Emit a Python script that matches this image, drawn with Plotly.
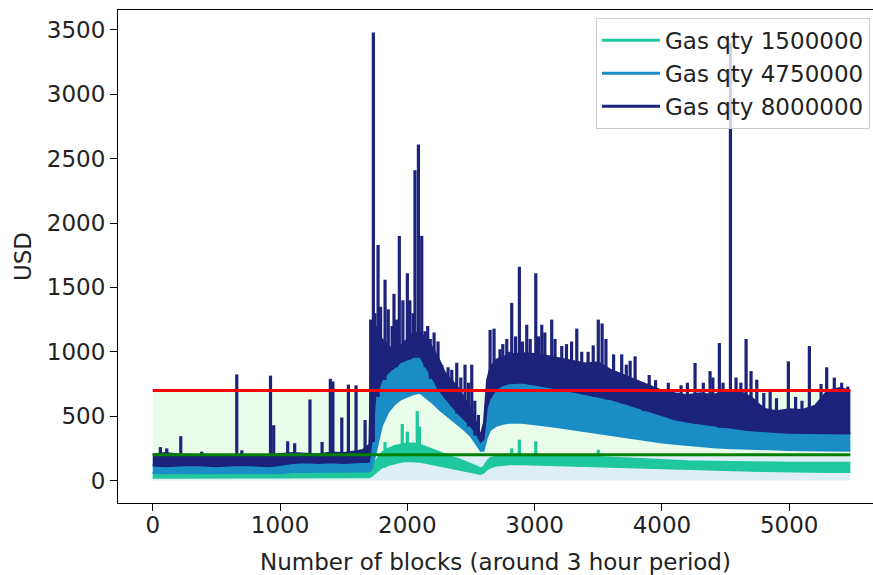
import numpy as np
import plotly.graph_objects as go

# ---------------- data ----------------
blocks = [0, 100, 200, 300, 400, 500, 600, 700, 800, 900, 1000, 1100, 1200, 1300, 1400, 1500, 1600,
          1650, 1700, 1720,
          1750, 1800, 1850, 1900, 1950, 2000, 2050, 2100, 2150, 2200, 2250, 2300, 2350, 2400, 2450, 2500, 2550,
          2575, 2600, 2625, 2650,
          2700, 2750, 2800,
          2900, 3000, 3100, 3200, 3300, 3400, 3500, 3600, 3700, 3800, 3900, 4000, 4100, 4200, 4300, 4400,
          4500, 4600, 4700, 4800, 4900, 5000, 5100, 5200, 5300, 5400,
          5480]

# Gas qty 1500000 (lower / upper edge of the dense band)
teal_low = [20, 20, 20, 20, 20, 20, 20, 20, 20, 20, 20, 25, 25, 25, 25, 25, 25,
            25, 25, 35,
            60, 100, 120, 135, 145, 150, 150, 145, 135, 125, 115, 105, 95, 85, 75, 65, 55,
            50, 60, 85, 100,
            115, 120, 125,
            125, 122, 120, 118, 115, 112, 110, 105, 102, 98, 95, 90, 88, 85, 82, 80,
            78, 76, 74, 72, 70, 70, 68, 68, 66, 66,
            65]
teal_high = [65, 60, 60, 60, 60, 60, 60, 60, 60, 60, 60, 70, 70, 70, 70, 70, 70,
             70, 75, 90,
             150, 220, 250, 270, 280, 290, 290, 280, 260, 240, 220, 200, 185, 170, 150, 135, 110,
             95, 110, 150, 175,
             190, 195, 195,
             195, 192, 190, 190, 188, 186, 185, 180, 175, 168, 162, 158, 155, 152, 150, 148,
             150, 148, 145, 142, 140, 140, 140, 138, 140, 140,
             140]

# Gas qty 4750000
blue_low = [55, 55, 55, 55, 55, 55, 55, 55, 55, 55, 55, 65, 65, 65, 65, 65, 65,
            65, 70, 90,
            200, 420, 530, 590, 630, 650, 670, 680, 640, 600, 550, 510, 470, 430, 390, 340, 270,
            230, 230, 330, 390,
            425, 440, 448,
            448, 438, 425, 410, 395, 380, 365, 350, 335, 320, 305, 295, 285, 275, 265, 258,
            252, 248, 244, 240, 238, 236, 235, 234, 233, 232,
            230]
blue_high = [125, 125, 125, 125, 125, 125, 125, 125, 125, 125, 125, 140, 140, 140, 140, 140, 140,
             140, 145, 250,
             600, 790, 850, 900, 940, 960, 990, 990, 900, 800, 710, 650, 590, 530, 480, 430, 360,
             310, 330, 560, 650,
             720, 750, 765,
             770, 755, 740, 720, 700, 680, 660, 640, 610, 580, 550, 515, 485, 465, 450, 435,
             420, 410, 400, 390, 385, 380, 380, 375, 375, 380,
             375]

# Gas qty 8000000
navy_low = [115, 110, 115, 120, 115, 110, 115, 120, 115, 110, 120, 135, 140, 135, 140, 135, 140,
            140, 145, 300,
            650, 780, 840, 880, 920, 940, 960, 960, 880, 790, 700, 640, 580, 520, 470, 420, 350,
            300, 320, 560, 640,
            710, 740, 755,
            760, 745, 730, 710, 690, 670, 650, 630, 600, 570, 540, 505, 475, 455, 440, 425,
            410, 400, 390, 380, 375, 370, 370, 365, 365, 370,
            365]
navy_high = [205, 215, 205, 200, 195, 195, 195, 205, 190, 200, 205, 215, 210, 205, 220, 215, 230,
             240, 280, 1150,
             1200, 1100, 1050, 1000, 1050, 1100, 1150, 1150, 1100, 1030, 940, 830, 780, 720, 640, 560, 430,
             350, 450, 780, 880,
             940, 960, 980,
             990, 985, 970, 950, 930, 910, 920, 860, 820, 780, 740, 700, 680, 665, 680, 665,
             700, 700, 650, 560, 540, 555, 550, 580, 700, 720,
             700]

# isolated peaks rising above the dense bands
navy_spike_x = [60, 110, 220, 385, 660, 700, 925, 950, 1060, 1115, 1235, 1330, 1395, 1415, 1485, 1537,
                1597, 1668, 1712, 1733, 1745, 1770, 1790, 1825, 1850, 1880, 1895, 1915, 1937, 1965,
                2000, 2020, 2045, 2060, 2087, 2113, 2139, 2160, 2180, 2210, 2241, 2270, 2296, 2320,
                2349, 2388, 2420, 2453, 2480, 2506, 2530, 2558,
                2650, 2681, 2728, 2750, 2781, 2800, 2820, 2850, 2880, 2905, 2938, 2965, 3009, 3030,
                3056, 3080, 3134, 3160, 3213, 3250, 3290, 3331, 3370, 3420, 3460, 3500, 3530, 3560,
                3620, 3684, 3720, 3750, 3789, 3854, 3900, 3950, 4050, 4150, 4200, 4260, 4325, 4378,
                4400, 4451, 4480, 4538, 4582, 4620, 4661, 4700, 4745, 4800, 4850, 4900, 4993, 5050,
                5100, 5158, 5200, 5250, 5294, 5354, 5412, 5460]
navy_spike_y = [260, 250, 345, 225, 825, 235, 815, 430, 305, 290, 630, 300, 790, 770, 490, 745,
                740, 470, 1250, 3480, 1300, 1830, 1350, 1560, 1330, 1200, 1450, 1250, 1900, 1400,
                1610, 1400, 1300, 2410, 2610, 1900, 1160, 1200, 1100, 1150, 1080, 900, 840, 880,
                860, 915, 800, 900, 760, 900, 620, 510,
                1170, 1180, 1020, 1060, 1100, 1000, 1380, 1120, 1660, 1080, 1210, 1100, 1610, 1120,
                1210, 1150, 1250, 1100, 1045, 1060, 1080, 1180, 1000, 1000, 1050, 1250, 1220, 1100,
                980, 980, 900, 930, 965, 760, 820, 780, 760, 740, 760, 913, 760, 850,
                800, 1068, 760, 3400, 800, 760, 1100, 850, 783, 680, 700, 640, 926, 650,
                620, 1045, 560, 750, 880, 800, 760, 730]
teal_spike_x = [1825, 1960, 2000, 2078, 2095, 2820, 2880, 3009, 3500]
teal_spike_y = [300, 440, 380, 540, 420, 250, 318, 305, 240]

low_threshold = 200
high_threshold = 700

series_names = ["Gas qty 1500000", "Gas qty 4750000", "Gas qty 8000000"]

# ---------------- styling ----------------
C_TEAL = "#1fc79d"
C_BLUE = "#1a8dc6"
C_NAVY = "#1b237b"
FONT = "DejaVu Sans"
FS = 23

fig = go.Figure()
xs = [blocks[0], blocks[-1]]

# background bands
fig.add_trace(go.Scatter(x=xs, y=[0, 0], mode="lines", line=dict(width=0), showlegend=False, hoverinfo="skip"))
fig.add_trace(go.Scatter(x=xs, y=[low_threshold] * 2, mode="lines", line=dict(width=0), fill="tonexty",
                         fillcolor="rgba(173,216,230,0.42)", showlegend=False, hoverinfo="skip"))
fig.add_trace(go.Scatter(x=xs, y=[high_threshold] * 2, mode="lines", line=dict(width=0), fill="tonexty",
                         fillcolor="rgba(144,238,144,0.2)", showlegend=False, hoverinfo="skip"))

b = np.array(blocks)


def add_series(low, high, sx, sy, color):
    fig.add_trace(go.Scatter(x=blocks, y=low, mode="lines", line=dict(color=color, width=1.6),
                             showlegend=False, hoverinfo="skip"))
    fig.add_trace(go.Scatter(x=blocks, y=high, mode="lines", line=dict(color=color, width=1.6),
                             fill="tonexty", fillcolor=color, showlegend=False, hoverinfo="skip"))
    if sx:
        px, py = [], []
        for x, y in zip(sx, sy):
            i = int(np.abs(b - x).argmin())
            px += [x, x, None]
            py += [low[i], y, None]
        fig.add_trace(go.Scatter(x=px, y=py, mode="lines", line=dict(color=color, width=3.2),
                                 showlegend=False, hoverinfo="skip"))


add_series(teal_low, teal_high, teal_spike_x, teal_spike_y, C_TEAL)
add_series(blue_low, blue_high, [], [], C_BLUE)
add_series(navy_low, navy_high, navy_spike_x, navy_spike_y, C_NAVY)

# threshold lines
fig.add_trace(go.Scatter(x=xs, y=[high_threshold] * 2, mode="lines", line=dict(color="#ff0000", width=3),
                         showlegend=False, hoverinfo="skip"))
fig.add_trace(go.Scatter(x=xs, y=[low_threshold] * 2, mode="lines", line=dict(color="#008000", width=3),
                         showlegend=False, hoverinfo="skip"))

# legend entries
for name, col in zip(series_names, [C_TEAL, C_BLUE, C_NAVY]):
    fig.add_trace(go.Scatter(x=[None], y=[None], mode="lines", line=dict(color=col, width=3),
                             name=name, legendgroup=name))

axis_common = dict(showgrid=False, zeroline=False, showline=True, linecolor="black", linewidth=1.2,
                   ticks="outside", ticklen=7, tickwidth=1.2, tickcolor="black",
                   tickfont=dict(family=FONT, size=FS, color="#222222"))

fig.update_layout(
    width=873, height=575,
    margin=dict(l=118, r=0, t=10, b=72),
    paper_bgcolor="white", plot_bgcolor="white",
    font=dict(family=FONT, size=FS, color="#222222"),
    xaxis=dict(range=[-273, 5658], tickvals=[0, 1000, 2000, 3000, 4000, 5000], mirror=True,
               ticklabelstandoff=-6,
               title=dict(text="Number of blocks (around 3 hour period)", font=dict(family=FONT, size=FS),
                          standoff=18),
               **axis_common),
    yaxis=dict(range=[-174, 3654], tickvals=[0, 500, 1000, 1500, 2000, 2500, 3000, 3500],
               title=dict(text="USD", font=dict(family=FONT, size=FS), standoff=8),
               **axis_common),
    legend=dict(x=0.996, xanchor="right", y=0.984, yanchor="top", bgcolor="rgba(255,255,255,0.8)",
                bordercolor="#cccccc", borderwidth=1, font=dict(family=FONT, size=FS, color="#222222"),
                tracegroupgap=0, itemwidth=58),
    showlegend=True,
)

fig.write_html("out.html")
